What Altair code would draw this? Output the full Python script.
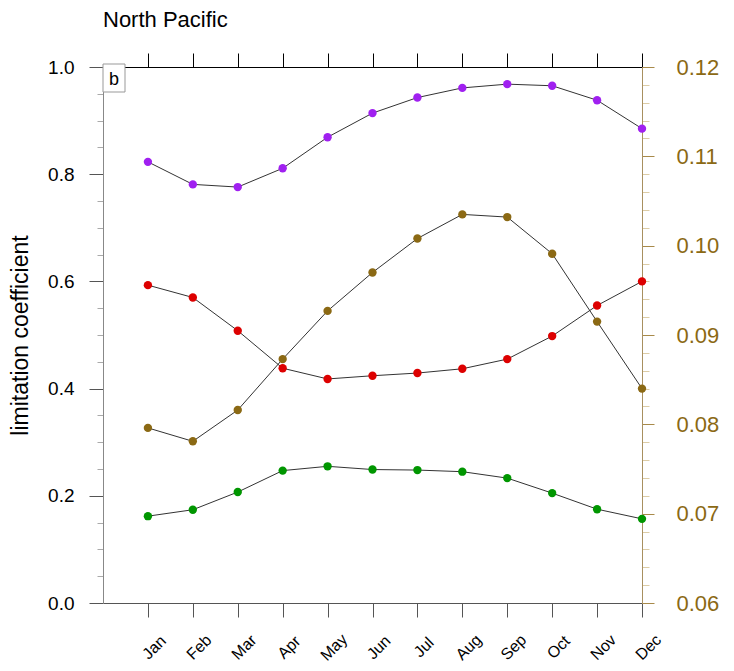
import altair as alt
import pandas as pd

months = ["Jan", "Feb", "Mar", "Apr", "May", "Jun", "Jul", "Aug", "Sep", "Oct", "Nov", "Dec"]
month_num = list(range(1, 13))

purple = [0.823, 0.781, 0.776, 0.811, 0.869, 0.914, 0.943, 0.961, 0.968, 0.965, 0.938, 0.885]
red = [0.593, 0.570, 0.508, 0.438, 0.418, 0.424, 0.429, 0.437, 0.455, 0.498, 0.555, 0.600]
green = [0.162, 0.174, 0.207, 0.247, 0.255, 0.249, 0.248, 0.245, 0.233, 0.205, 0.175, 0.157]
brown = [0.0796, 0.0781, 0.0816, 0.0873, 0.0927, 0.0970, 0.1008, 0.1035, 0.1032, 0.0991, 0.0915, 0.0840]

left_major = [0.0, 0.2, 0.4, 0.6, 0.8, 1.0]
left_minor = [round(0.05 * i, 2) for i in range(21)]
right_major = [0.06, 0.07, 0.08, 0.09, 0.10, 0.11, 0.12]
right_minor = [round(0.06 + 0.002 * i, 3) for i in range(31)]

FONT = "Liberation Sans"
BROWN = "#8b6914"

rows = []
for name, vals in (("purple", purple), ("red", red), ("green", green)):
    for m, v in zip(month_num, vals):
        rows.append({"m": m, "v": v, "s": name})
left_df = pd.DataFrame(rows)
right_df = pd.DataFrame({"m": month_num, "v": brown})

xscale = alt.Scale(domain=[0, 12], nice=False, zero=False)
yl_scale = alt.Scale(domain=[0, 1], nice=False, zero=False)
yr_scale = alt.Scale(domain=[0.06, 0.12], nice=False, zero=False)

month_expr = "[" + ",".join("'%s'" % m for m in months) + "][datum.value - 1]"

bottom_axis = alt.Axis(orient="bottom", values=month_num, labelExpr=month_expr,
                       labelAngle=315, labelAlign="center", labelBaseline="middle",
                       labelOffset=6, labelPadding=30, tickSize=14, tickColor="#555555",
                       domainColor="#555555", labelFontSize=16, labelFont=FONT,
                       labelColor="black", grid=False, title=None, labelOverlap=False,
                       labelFlush=False)
top_axis = alt.Axis(orient="top", values=month_num, labels=False, tickSize=14,
                    tickColor="black", domainColor="black", grid=False, title=None)

left_major_axis = alt.Axis(orient="left", values=left_major, format=".1f", tickSize=14,
                           tickColor="#555555", domainColor="#888888", labelFontSize=19,
                           labelFont=FONT, labelColor="black", labelPadding=15,
                           title="limitation coefficient", titleFontSize=23, titleFont=FONT,
                           titleFontWeight="normal", titleColor="black", titlePadding=15,
                           grid=False)
left_minor_axis = alt.Axis(orient="left", values=left_minor, labels=False, tickSize=6,
                           tickColor="#aaaaaa", domain=False, title=None, grid=False)
right_major_axis = alt.Axis(orient="right", values=right_major, format=".2f", tickSize=12,
                            tickColor="#a88a4a", domainColor="#a89060", labelFontSize=22,
                            labelFont=FONT, labelColor=BROWN, labelPadding=22,
                            title=None, grid=False)
right_minor_axis = alt.Axis(orient="right", values=right_minor, labels=False, tickSize=7,
                            tickColor="#dccca6", domain=False, title=None, grid=False)

color_scale = alt.Scale(domain=["purple", "red", "green"],
                        range=["#a020f0", "#dd0000", "#009600"])

left_lines = alt.Chart(left_df).mark_line(color="#333333", strokeWidth=1).encode(
    x=alt.X("m:Q", scale=xscale, axis=top_axis),
    y=alt.Y("v:Q", scale=yl_scale, axis=left_minor_axis),
    detail="s:N",
)
left_points = alt.Chart(left_df).mark_circle(size=70, opacity=1).encode(
    x=alt.X("m:Q", scale=xscale, axis=bottom_axis),
    y=alt.Y("v:Q", scale=yl_scale, axis=left_major_axis),
    color=alt.Color("s:N", scale=color_scale, legend=None),
)

ann = pd.DataFrame({"t": ["b"]})
box = alt.Chart(ann).mark_rect(fill="white", stroke="#999999", strokeWidth=1).encode(
    x=alt.value(0), x2=alt.value(22), y=alt.value(-3), y2=alt.value(25)
)
box_text = alt.Chart(ann).mark_text(fontSize=18, font=FONT, color="black",
                                    align="center", baseline="alphabetic").encode(
    text="t:N", x=alt.value(11), y=alt.value(18)
)

L = alt.layer(left_lines, left_points, box, box_text).resolve_axis(
    x="independent", y="independent")

right_line = alt.Chart(right_df).mark_line(color="#333333", strokeWidth=1).encode(
    x=alt.X("m:Q", scale=xscale, axis=None),
    y=alt.Y("v:Q", scale=yr_scale, axis=right_minor_axis),
)
right_points = alt.Chart(right_df).mark_circle(size=70, opacity=1, color=BROWN).encode(
    x=alt.X("m:Q", scale=xscale, axis=None),
    y=alt.Y("v:Q", scale=yr_scale, axis=right_major_axis),
)
R = alt.layer(right_line, right_points).resolve_axis(y="independent")

chart = alt.layer(L, R).resolve_scale(y="independent").resolve_axis(
    y="independent"
).properties(
    width=539, height=536,
    title=alt.TitleParams("North Pacific", anchor="start", fontSize=22, fontWeight="normal",
                          font=FONT, offset=21, color="black", frame="group"),
    padding={"left": 95, "top": 59, "right": 84, "bottom": 60},
    autosize=alt.AutoSizeParams(type="none"),
).configure_view(stroke=None).configure(font=FONT)

chart.save("out.html", embed_options={"renderer": "svg", "actions": False})
